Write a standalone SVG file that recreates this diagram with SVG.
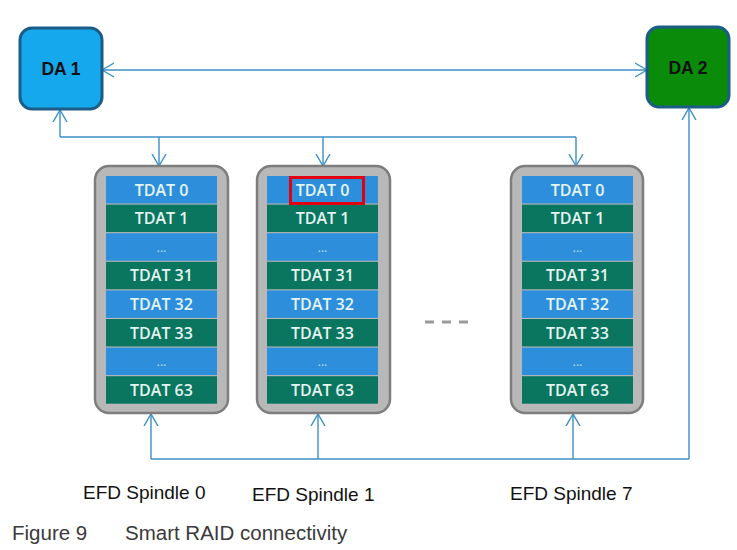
<svg xmlns="http://www.w3.org/2000/svg" width="737" height="550" viewBox="0 0 737 550">
<style>
.conn{fill:none;stroke:#3a8fc6;stroke-width:1.4}
.da{stroke:#1b5d86;stroke-width:3}
.dat{font-family:"Liberation Sans",Arial,sans-serif;font-weight:bold;font-size:17.5px;fill:#111;text-anchor:middle}
.outer{fill:#b8b8b8;stroke:#7d7d7d;stroke-width:2.5}
.b{fill:#2d8fdc}
.g{fill:#0a7660}
.t{font-family:"Open Sans","Liberation Sans",sans-serif;font-size:16px;font-weight:600;fill:#e6f4f2;text-anchor:middle}
.dots{font-family:"Open Sans","Liberation Sans",sans-serif;font-size:12px;fill:#bfe0f5;text-anchor:middle}
.lbl{font-family:"Liberation Sans",Arial,sans-serif;font-size:19px;fill:#111}
.cap{font-family:"Liberation Sans",Arial,sans-serif;font-size:20.5px;fill:#3a3a3a}
</style>
<defs>
<marker id="arr" viewBox="0 0 12 16" refX="12" refY="8" markerWidth="12" markerHeight="16" markerUnits="userSpaceOnUse" orient="auto-start-reverse">
<path d="M0,1 L12,8 L0,15" fill="none" stroke="#3a8fc6" stroke-width="1.4"/>
</marker>
<g id="rows">
<rect class="b" x="0" y="0" width="111" height="27.5"/>
<rect class="g" x="0" y="28.6" width="111" height="27.5"/>
<rect class="b" x="0" y="57.2" width="111" height="27.5"/>
<rect class="g" x="0" y="85.8" width="111" height="27.5"/>
<rect class="b" x="0" y="114.4" width="111" height="27.5"/>
<rect class="g" x="0" y="143" width="111" height="27.5"/>
<rect class="b" x="0" y="171.6" width="111" height="27.5"/>
<rect class="g" x="0" y="200.2" width="111" height="27.5"/>
<text class="t" x="55.5" y="19.5">TDAT 0</text>
<text class="t" x="55.5" y="48.1">TDAT 1</text>
<text class="dots" x="55.5" y="75.5">...</text>
<text class="t" x="55.5" y="105.3">TDAT 31</text>
<text class="t" x="55.5" y="133.9">TDAT 32</text>
<text class="t" x="55.5" y="162.5">TDAT 33</text>
<text class="dots" x="55.5" y="189.9">...</text>
<text class="t" x="55.5" y="219.7">TDAT 63</text>
</g>
</defs>

<g id="connectors">
<line class="conn" x1="102" y1="70" x2="647" y2="70" marker-start="url(#arr)" marker-end="url(#arr)"/>
<path class="conn" d="M60,137 V110" marker-end="url(#arr)"/>
<path class="conn" d="M60,137 H576"/>
<path class="conn" d="M159,137 V166" marker-end="url(#arr)"/>
<path class="conn" d="M323,137 V166" marker-end="url(#arr)"/>
<path class="conn" d="M576,137 V166" marker-end="url(#arr)"/>
<path class="conn" d="M151,459 H689"/>
<path class="conn" d="M689,459 V108" marker-end="url(#arr)"/>
<path class="conn" d="M151,459 V414" marker-end="url(#arr)"/>
<path class="conn" d="M318,459 V414" marker-end="url(#arr)"/>
<path class="conn" d="M573,459 V414" marker-end="url(#arr)"/>
</g>

<g id="da1">
<rect class="da" x="20" y="28" width="82" height="81" rx="12" fill="#16a8ec"/>
<text class="dat" x="61" y="75">DA 1</text>
</g>
<g id="da2">
<rect class="da" x="647" y="27" width="82" height="80" rx="12" fill="#0a8c0a"/>
<text class="dat" x="688" y="74">DA 2</text>
</g>

<g id="spindle0">
<rect class="outer" x="95" y="166" width="133" height="247" rx="14"/>
<use href="#rows" x="106" y="176"/>
</g>
<g id="spindle1">
<rect class="outer" x="257" y="166" width="133" height="247" rx="14"/>
<use href="#rows" x="267" y="176"/>
<rect x="290.5" y="177.5" width="73" height="26" fill="none" stroke="#e3000f" stroke-width="3"/>
</g>
<g id="spindle7">
<rect class="outer" x="511" y="166" width="132" height="247" rx="14"/>
<use href="#rows" x="522" y="176"/>
</g>

<g id="ellipsis">
<line x1="425" y1="322" x2="469" y2="322" stroke="#9a9a9a" stroke-width="3" stroke-dasharray="9,8"/>
</g>

<g id="labels">
<text class="lbl" x="83" y="499">EFD Spindle 0</text>
<text class="lbl" x="252" y="501">EFD Spindle 1</text>
<text class="lbl" x="510" y="500">EFD Spindle 7</text>
<text class="cap" x="12" y="540">Figure 9</text>
<text class="cap" x="125" y="540">Smart RAID connectivity</text>
</g>
</svg>
